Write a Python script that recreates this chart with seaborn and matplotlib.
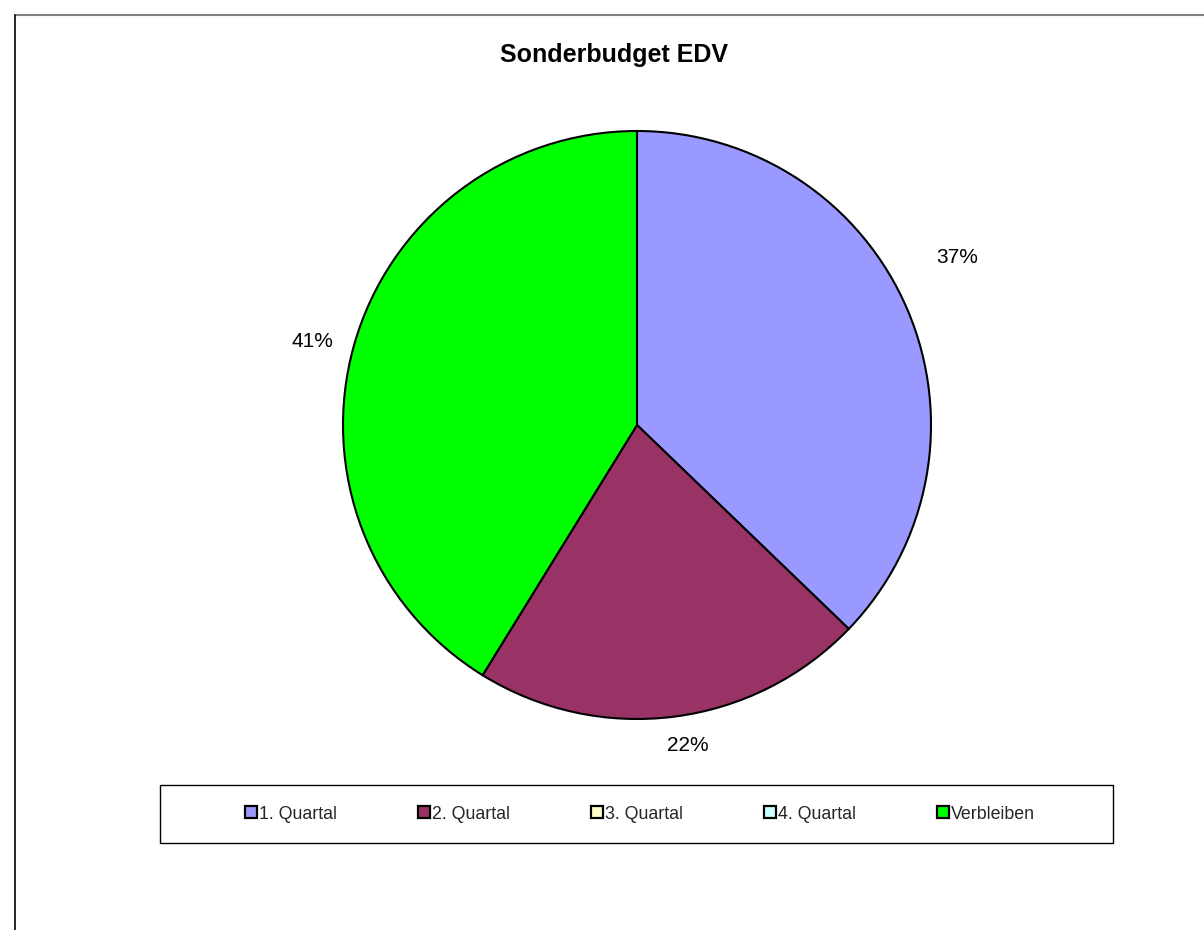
import matplotlib
matplotlib.use("Agg")
import matplotlib.pyplot as plt
from matplotlib.lines import Line2D
from matplotlib.patches import Rectangle
import seaborn as sns
import numpy as np

sns.set_theme(style="white")
plt.rcParams['font.family'] = ['Liberation Sans', 'DejaVu Sans']

title = "Sonderbudget EDV"
categories = ["1. Quartal", "2. Quartal", "3. Quartal", "4. Quartal", "Verbleiben"]
values = [37.2, 21.6, 0, 0, 41.2]
colors = ["#9999FF", "#993366", "#FFFFCC", "#CCFFFF", "#00FF00"]

# label placement style (radial factor, angular offset in degrees, clockwise positive)
label_dist = {0: 1.23, 1: 1.105, 4: 1.14}
label_rot = {0: -4.5, 1: -1.8, 4: -1.5}

W, H = 1204, 930
fig = plt.figure(figsize=(W / 100, H / 100), dpi=100)
fig.patch.set_facecolor("white")

lim = 1.3
R = 294
half = R * lim
cx, cy = 637, H - 425
ax = fig.add_axes([(cx - half) / W, (cy - half) / H, 2 * half / W, 2 * half / H])

nz = [i for i, v in enumerate(values) if v > 0]
vals = [values[i] for i in nz]
cols = [colors[i] for i in nz]
wedges, texts, autotexts = ax.pie(
    vals, colors=cols, startangle=90, counterclock=False, radius=1.0,
    wedgeprops=dict(edgecolor="black", linewidth=1.5),
    autopct=lambda p: f"{p:.0f}%", pctdistance=1.15,
    textprops=dict(fontsize=15, color="black"))
for idx, w, t in zip(nz, wedges, autotexts):
    mid = 0.5 * (w.theta1 + w.theta2) - label_rot[idx]
    d = label_dist[idx]
    t.set_position((d * np.cos(np.radians(mid)), d * np.sin(np.radians(mid))))
    t.set_ha("center")
    t.set_va("center")
ax.set_xlim(-lim, lim)
ax.set_ylim(-lim, lim)
ax.set_aspect("equal")
ax.axis("off")

fig.text(614 / W, 1 - 55 / H, title, ha="center", va="center",
         fontsize=18, fontweight="bold", color="black")

# legend box
bx0, by0, bx1, by1 = 160, 785, 1113, 843
fig.add_artist(Rectangle((bx0 / W, 1 - by1 / H), (bx1 - bx0) / W, (by1 - by0) / H,
                         transform=fig.transFigure, facecolor="white",
                         edgecolor="black", linewidth=1.0))
handles = [Line2D([0], [0], marker="s", linestyle="none", markersize=8,
                  markerfacecolor=c, markeredgecolor="black", markeredgewidth=1.6)
           for c in colors]
leg = fig.legend(handles, categories,
                 loc="center", bbox_to_anchor=((bx0 + bx1) / 2 / W + 0.003, 1 - 814 / H),
                 ncol=5, frameon=False, handlelength=0.6, handletextpad=0.15,
                 columnspacing=4.6, fontsize=12.8, borderaxespad=0)

# outer chart border (cropped at right and bottom)
fig.add_artist(Line2D([15 / W, 1], [1 - 15 / H, 1 - 15 / H], color="#808080", linewidth=1.5))
fig.add_artist(Line2D([15 / W, 15 / W], [0, 1 - 15 / H], color="black", linewidth=1.2))

fig.savefig("out.png", dpi=100, facecolor="white")
